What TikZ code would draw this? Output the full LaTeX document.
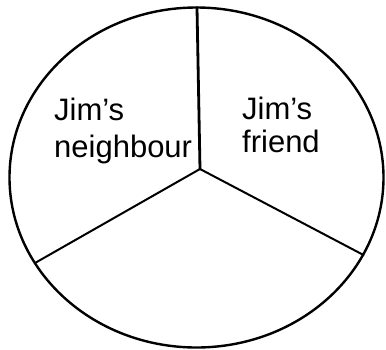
\documentclass[tikz,border=0pt]{standalone}
\usepackage{fontspec}
\setmainfont{Liberation Sans}
\begin{document}
\begin{tikzpicture}[x=1pt,y=-1pt,
  lbl/.style={anchor=base west,inner sep=0pt,font=\fontsize{31}{35}\selectfont},
  rim/.style={line width=2.4pt},
  spoke/.style={line width=2pt,line cap=round}]
\useasboundingbox (0,0) rectangle (386,349);
\coordinate (o) at (196.5,177.5);
\coordinate (c) at (200,169);
\coordinate (top) at (197,7.5);
\coordinate (le) at (35,263);
\coordinate (re) at (363.5,255);
\draw[rim] (o) ellipse [x radius=187pt, y radius=170pt];
\draw[spoke,line width=2.8pt] (c) -- (top);
\draw[spoke] (c) -- (le);
\draw[spoke] (c) -- (re);
\node[lbl] (l1) at (54,120) {Jim's};
\node[lbl] (l2) at (54,157) {neighbour};
\node[lbl] (r1) at (242,119) {Jim's};
\node[lbl] (r2) at (242,152) {friend};
\end{tikzpicture}
\end{document}
